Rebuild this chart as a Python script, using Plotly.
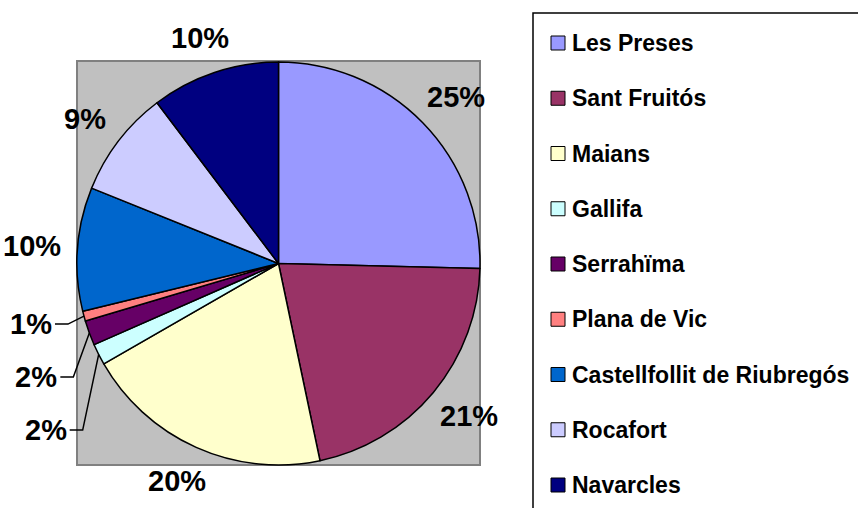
import math
import plotly.graph_objects as go

# ---- data ----
labels = ["Les Preses", "Sant Fruitós", "Maians", "Gallifa", "Serrahïma",
          "Plana de Vic", "Castellfollit de Riubregós", "Rocafort", "Navarcles"]
shares = [25.4, 21.3, 20.0, 1.7, 2.0, 0.8, 9.9, 8.6, 10.3]
colors = ["#9999FF", "#993366", "#FFFFCC", "#CCFFFF", "#660066",
          "#FF8080", "#0066CC", "#CCCCFF", "#000080"]

# ---- layout geometry (pixels) ----
W, H = 858, 508
CX, CY, R = 278.5, 263.5, 201.5
FONT = "Liberation Sans, Arial, sans-serif"
PCT_SIZE = 29


def px(x):
    return x / W


def py(y):
    return 1 - y / H


fig = go.Figure(go.Pie(
    labels=labels, values=shares,
    marker=dict(colors=colors, line=dict(color="black", width=1.5)),
    sort=False, direction="clockwise", rotation=0,
    textinfo="none", hoverinfo="label+percent",
    domain=dict(x=[px(CX - R), px(CX + R)], y=[py(CY + R), py(CY - R)]),
    showlegend=False,
))

shapes = []
annotations = []

# gray plot-area square
shapes.append(dict(type="rect", xref="paper", yref="paper",
                   x0=px(77), x1=px(480), y0=py(465), y1=py(61),
                   fillcolor="#C0C0C0", line=dict(color="#808080", width=2),
                   layer="below"))

# percentage labels
total = sum(shares)
cum = 0.0
small = []
for i, v in enumerate(shares):
    a0 = cum / total * 360
    cum += v
    a1 = cum / total * 360
    mid = math.radians((a0 + a1) / 2)
    pct = f"{round(v / total * 100)}%"
    if v / total >= 0.03:
        RB = 233
        dx, dy = math.sin(mid), -math.cos(mid)
        w = (0.556 * (len(pct) - 1) + 0.889) * PCT_SIZE
        h = 0.72 * PCT_SIZE
        annotations.append(dict(
            x=px(CX + RB * dx + dx * w / 4), y=py(CY + RB * dy + dy * h / 4),
            xref="paper", yref="paper", xanchor="center", yanchor="middle",
            text=f"<b>{pct}</b>", showarrow=False,
            font=dict(family=FONT, size=PCT_SIZE, color="black")))
    else:
        small.append((mid, pct))

# small slices: labels stacked on the left with leader lines
small.sort(key=lambda t: -t[0])
prev_y = None
for mid, pct in small:
    ex = CX + R * math.sin(mid)
    ey = CY - R * math.cos(mid)
    ly = ey + 8 if prev_y is None else max(prev_y + 53, ey + 8)
    prev_y = ly
    elbow = ex - 16
    tr = elbow - 14
    shapes.append(dict(type="path", xref="paper", yref="paper",
                       path=f"M {px(tr + 1)},{py(ly)} L {px(elbow)},{py(ly)} L {px(ex)},{py(ey)}",
                       line=dict(color="black", width=1.5)))
    annotations.append(dict(
        x=px(tr), y=py(ly), xref="paper", yref="paper",
        xanchor="right", yanchor="middle",
        text=f"<b>{pct}</b>", showarrow=False,
        font=dict(family=FONT, size=PCT_SIZE, color="black")))

# legend box (manual, to reproduce spacing)
shapes.append(dict(type="rect", xref="paper", yref="paper",
                   x0=px(533), x1=px(880), y0=py(530), y1=py(13),
                   fillcolor="white", line=dict(color="black", width=1.5)))
for i, (lab, col) in enumerate(zip(labels, colors)):
    yc = 43 + 55.25 * i
    shapes.append(dict(type="rect", xref="paper", yref="paper",
                       x0=px(551), x1=px(565), y0=py(yc + 7), y1=py(yc - 7),
                       fillcolor=col, line=dict(color="black", width=1)))
    annotations.append(dict(
        x=px(570), y=py(yc), xref="paper", yref="paper",
        xanchor="left", yanchor="middle",
        text=f"<b>{lab}</b>", showarrow=False,
        font=dict(family=FONT, size=23, color="black")))

fig.update_layout(
    width=W, height=H,
    margin=dict(l=0, r=0, t=0, b=0),
    paper_bgcolor="white", plot_bgcolor="white",
    showlegend=False,
    shapes=shapes, annotations=annotations,
)

fig.write_html("out.html", config={"displayModeBar": False},
               post_script="document.body.style.margin='0';document.body.style.overflow='hidden';")
